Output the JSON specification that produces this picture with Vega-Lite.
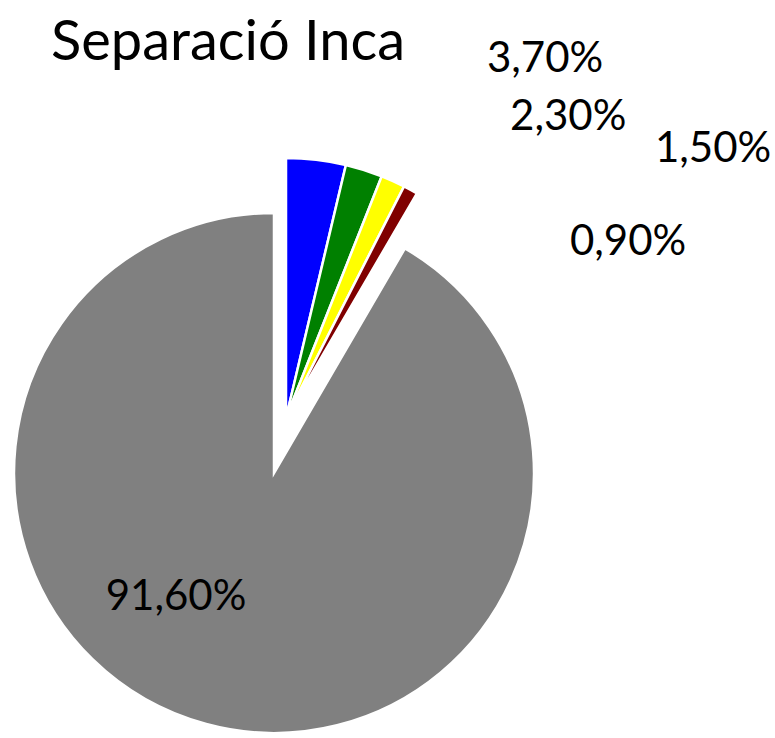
{
  "$schema": "https://vega.github.io/schema/vega-lite/v6.json",
  "width": 775,
  "height": 738,
  "autosize": {"type": "none"},
  "padding": 0,
  "background": "white",
  "config": {"view": {"stroke": null}},
  "title": {
    "text": "Separació Inca",
    "anchor": "start",
    "frame": "group",
    "orient": "top",
    "offset": -62,
    "dx": 51,
    "dy": 54,
    "baseline": "alphabetic",
    "font": "Lato",
    "fontSize": 56,
    "fontWeight": "normal",
    "color": "black"
  },
  "data": {
    "values": [
      {"categoria": "Blau", "valor": 3.7, "etiqueta": "3,70%", "ordre": 1},
      {"categoria": "Verd", "valor": 2.3, "etiqueta": "2,30%", "ordre": 2},
      {"categoria": "Groc", "valor": 1.5, "etiqueta": "1,50%", "ordre": 3},
      {"categoria": "Marró", "valor": 0.9, "etiqueta": "0,90%", "ordre": 4},
      {"categoria": "Gris", "valor": 91.6, "etiqueta": "91,60%", "ordre": 5}
    ]
  },
  "transform": [
    {"stack": "valor", "groupby": [], "sort": [{"field": "ordre", "order": "ascending"}], "as": ["v0", "v1"]}
  ],
  "layer": [
    {
      "transform": [{"filter": "datum.categoria === 'Gris'"}],
      "mark": {"type": "arc", "radius": 260, "xOffset": -113.5, "yOffset": 104, "stroke": "white", "strokeWidth": 2.5},
      "encoding": {
        "theta": {"field": "v0", "type": "quantitative", "scale": {"domain": [0, 100], "range": [0, 6.283185307179586]}},
        "theta2": {"field": "v1"},
        "color": {"field": "categoria", "type": "nominal", "legend": null,
          "scale": {"domain": ["Blau", "Verd", "Groc", "Marró", "Gris"], "range": ["#0000FF", "#008000", "#FFFF00", "#800000", "#808080"]}}
      }
    },
    {
      "transform": [{"filter": "datum.categoria !== 'Gris'"}],
      "mark": {"type": "arc", "radius": 260, "xOffset": -101.5, "yOffset": 49, "stroke": "white", "strokeWidth": 2.5},
      "encoding": {
        "theta": {"field": "v0", "type": "quantitative"},
        "theta2": {"field": "v1"},
        "color": {"field": "categoria", "type": "nominal", "legend": null}
      }
    },
    {
      "transform": [{"filter": "datum.categoria === 'Blau'"}],
      "mark": {"type": "text", "radius": 262, "xOffset": -101.5, "yOffset": 49, "dx": 140.6, "dy": -91, "align": "left", "baseline": "alphabetic", "font": "Lato", "fontSize": 42, "color": "black"},
      "encoding": {"theta": {"field": "v1", "type": "quantitative"}, "text": {"field": "etiqueta"}}
    },
    {
      "transform": [{"filter": "datum.categoria === 'Verd'"}],
      "mark": {"type": "text", "radius": 262, "xOffset": -101.5, "yOffset": 49, "dx": 127.6, "dy": -44.4, "align": "left", "baseline": "alphabetic", "font": "Lato", "fontSize": 42, "color": "black"},
      "encoding": {"theta": {"field": "v1", "type": "quantitative"}, "text": {"field": "etiqueta"}}
    },
    {
      "transform": [{"filter": "datum.categoria === 'Groc'"}],
      "mark": {"type": "text", "radius": 262, "xOffset": -101.5, "yOffset": 49, "dx": 250, "dy": -22.6, "align": "left", "baseline": "alphabetic", "font": "Lato", "fontSize": 42, "color": "black"},
      "encoding": {"theta": {"field": "v1", "type": "quantitative"}, "text": {"field": "etiqueta"}}
    },
    {
      "transform": [{"filter": "datum.categoria === 'Marró'"}],
      "mark": {"type": "text", "radius": 262, "xOffset": -101.5, "yOffset": 49, "dx": 152, "dy": 63, "align": "left", "baseline": "alphabetic", "font": "Lato", "fontSize": 42, "color": "black"},
      "encoding": {"theta": {"field": "v1", "type": "quantitative"}, "text": {"field": "etiqueta"}}
    },
    {
      "transform": [{"filter": "datum.categoria === 'Gris'"}],
      "mark": {"type": "text", "radius": 0, "xOffset": -113.5, "yOffset": 104, "dx": -98, "dy": 137, "align": "center", "baseline": "alphabetic", "font": "Lato", "fontSize": 42, "color": "black"},
      "encoding": {"theta": {"field": "v0", "type": "quantitative"}, "text": {"field": "etiqueta"}}
    }
  ]
}
